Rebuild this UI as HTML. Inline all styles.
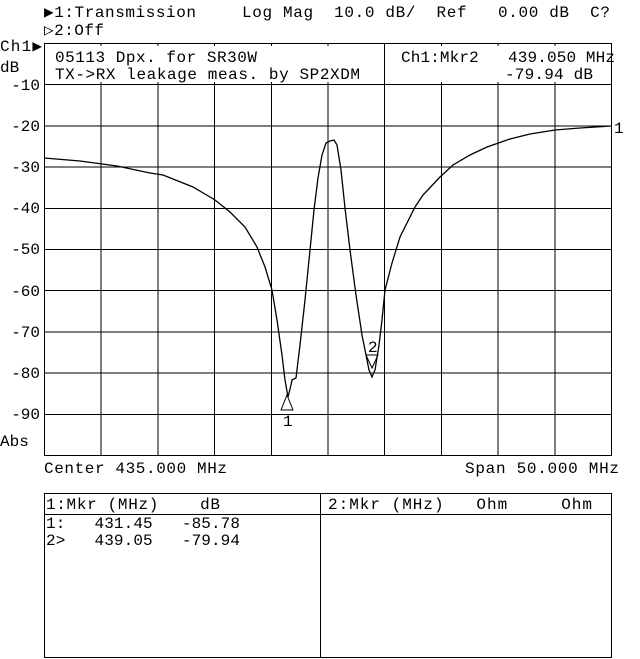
<!DOCTYPE html>
<html><head><meta charset="utf-8"><style>
html,body{margin:0;padding:0;background:#fff;}
svg{display:block;}
text{font-family:"Liberation Mono","DejaVu Sans Mono",monospace;font-size:16px;fill:#000;}
</style></head><body>
<svg width="640" height="659" viewBox="0 0 640 659" xmlns="http://www.w3.org/2000/svg">
<g stroke="#000" stroke-width="1" fill="none" shape-rendering="crispEdges">
<rect x="44.5" y="43.5" width="567" height="412"/>
<path d="M101.2 43.5V455.5M157.9 43.5V455.5M214.6 43.5V455.5M271.3 43.5V455.5M328 43.5V455.5M384.7 43.5V455.5M441.4 43.5V455.5M498.1 43.5V455.5M554.8 43.5V455.5"/>
<path d="M44.5 84.7H611.5M44.5 125.9H611.5M44.5 167.1H611.5M44.5 208.3H611.5M44.5 249.5H611.5M44.5 290.7H611.5M44.5 331.9H611.5M44.5 373.1H611.5M44.5 414.3H611.5"/>
<rect x="44.5" y="493.5" width="567" height="164"/>
<path d="M320.5 493.5V657.5M44.5 514.5H611.5"/>
</g>
<g fill="#fff">
<rect x="50" y="46" width="300" height="36"/>
<rect x="398" y="46" width="210" height="36"/>
</g>
<path d="M44 158 L80 161 L117 166 L150 173 L163 175 L193 187 L215 200 L230 212 L245 227 L257 247 L265 267 L272 290 L277 320 L282 355 L285 380 L288 397 L291 385 L292 380 L296 378 L300 345 L305 300 L310 250 L314 210 L318 178 L322 155 L326 143 L330 141 L334 140 L337 145 L341 170 L345 208 L350 250 L356 295 L362 335 L366 355 L369 370 L372 377 L375 370 L379 345 L382 320 L385 290 L392 263 L400 237 L415 207 L423 195 L440 177 L453 165 L470 155 L487 147 L510 139 L530 134 L555 130 L580 128 L611 126" stroke="#000" stroke-width="1.3" fill="none"/>
<path d="M281 410 L287 395 L293 410 Z" stroke="#000" fill="none"/>
<path d="M366 355 L372 368 L378 355 Z" stroke="#000" fill="none"/>
<text x="283" y="426" font-size="14">1</text>
<text x="368" y="352" font-size="14">2</text>
<text x="614" y="133" font-size="14">1</text>
<text x="44" y="17" textLength="152">▶1:Transmission</text>
<text x="242" y="17" textLength="368" xml:space="preserve">Log Mag  10.0 dB/  Ref   0.00 dB  C?</text>
<text x="44" y="35" textLength="60">▷2:Off</text>
<text x="0" y="51" textLength="42">Ch1▶</text>
<text x="0" y="72">dB</text>
<text x="55" y="62" textLength="202">05113 Dpx. for SR30W</text>
<text x="55" y="79" textLength="305">TX->RX leakage meas. by SP2XDM</text>
<text x="401" y="62" textLength="214" xml:space="preserve">Ch1:Mkr2   439.050 MHz</text>
<text x="505" y="79" textLength="88">-79.94 dB</text>
<g text-anchor="end">
<text x="40" y="90">-10</text><text x="40" y="131">-20</text><text x="40" y="172">-30</text><text x="40" y="213">-40</text><text x="40" y="254">-50</text><text x="40" y="296">-60</text><text x="40" y="337">-70</text><text x="40" y="378">-80</text><text x="40" y="419">-90</text>
</g>
<text x="0" y="446">Abs</text>
<text x="44" y="473" textLength="183">Center 435.000 MHz</text>
<text x="465" y="473" textLength="154">Span 50.000 MHz</text>
<text x="46" y="509" textLength="174" xml:space="preserve">1:Mkr (MHz)    dB</text>
<text x="328" y="509" textLength="264" xml:space="preserve">2:Mkr (MHz)   Ohm     Ohm</text>
<text x="46" y="528" textLength="194" xml:space="preserve">1:   431.45   -85.78</text>
<text x="46" y="545" textLength="194" xml:space="preserve">2>   439.05   -79.94</text>
</svg>
</body></html>
